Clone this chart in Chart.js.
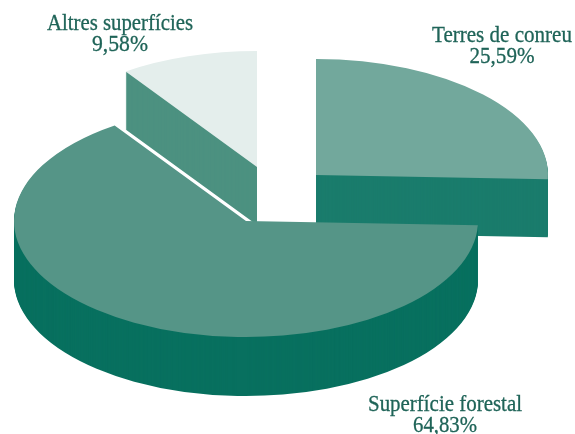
<!DOCTYPE html>
<html lang="ca">
<head>
<meta charset="utf-8">
<title>Superfície</title>
<script src="https://cdn.jsdelivr.net/npm/chart.js@4"></script>
<style>
  html, body { margin: 0; padding: 0; background: #fff; }
  canvas { display: block; }
</style>
</head>
<body>
<canvas id="chart" width="575" height="434"></canvas>
<script>
const categories = ["Terres de conreu", "Superfície forestal", "Altres superfícies"];
const shares = [25.59, 64.83, 9.58];

const topColors = ["#72a89c", "#559587", "#e4eeec"];
const sideColors = ["#1a7c6c", "#08705f", "#4c9180"];
// apex of each slice on the page, its wall height, and where its label goes
const apexes = [[316, 175], [246, 221], [257, 167]];
const depths = [58, 59, 58];
const labelSpots = [
  { x: 502, y: 42, width: 140, width2: 65 },
  { x: 445, y: 411, width: 154, width2: 64 },
  { x: 120, y: 30, width: 146, width2: 56 },
];
const drawOrder = [2, 0, 1];
const squash = 0.5;

const pie3d = {
  id: "pie3d",
  beforeDatasetDraw(chart) {
    const ctx = chart.ctx;
    const arcs = chart.getDatasetMeta(0).data;

    drawOrder.forEach((i) => {
      const arc = arcs[i];
      const base = arc.options;
      const place = (dy) => {
        ctx.save();
        ctx.translate(apexes[i][0], apexes[i][1] + dy);
        ctx.scale(1, squash);
        ctx.translate(-arc.x, -arc.y);
      };

      // stack of dark copies makes the wall
      arc.options = Object.assign({}, base, { backgroundColor: sideColors[i] });
      for (let d = depths[i]; d > 0; d--) {
        place(d);
        arc.draw(ctx);
        ctx.restore();
      }
      arc.options = base;
      place(0);
      arc.draw(ctx);
      ctx.restore();
    });

    return false;
  },
  afterDraw(chart) {
    const ctx = chart.ctx;
    ctx.save();
    ctx.fillStyle = "#1f6458";
    ctx.strokeStyle = "#1f6458";
    ctx.lineWidth = 0.3;
    ctx.textAlign = "center";
    ctx.font = '24px "Liberation Serif"';
    categories.forEach((name, i) => {
      const spot = labelSpots[i];
      const pct = shares[i].toFixed(2).replace(".", ",") + "%";
      ctx.fillText(name, spot.x, spot.y, spot.width);
      ctx.strokeText(name, spot.x, spot.y, spot.width);
      ctx.fillText(pct, spot.x, spot.y + 21, spot.width2);
      ctx.strokeText(pct, spot.x, spot.y + 21, spot.width2);
    });
    ctx.restore();
  },
};

new Chart(document.getElementById("chart"), {
  type: "pie",
  data: {
    labels: categories,
    datasets: [
      {
        data: shares,
        backgroundColor: topColors,
        borderWidth: 0,
        radius: 232,
      },
    ],
  },
  options: {
    responsive: false,
    animation: false,
    plugins: {
      legend: { display: false },
      tooltip: { enabled: false },
    },
  },
  plugins: [pie3d],
});
</script>
</body>
</html>
